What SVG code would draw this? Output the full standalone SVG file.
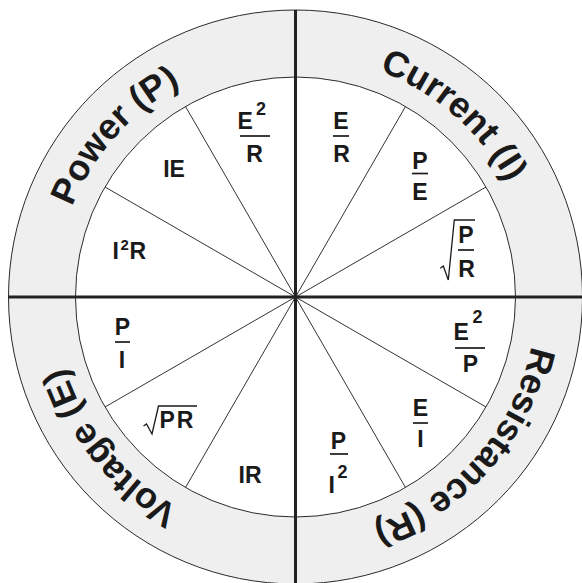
<svg xmlns="http://www.w3.org/2000/svg" width="582" height="583" viewBox="0 0 582 583">
<style>
.f{font-family:"Liberation Sans",Arial,Helvetica,sans-serif;font-weight:bold;fill:#1a1a1a}
.m{font-size:23px;text-anchor:middle}
.st{font-size:23px}
.s{font-size:18px}
.s2{font-size:15px}
.ring{font-size:36px;white-space:pre}
.bar{stroke:#1a1a1a;stroke-width:1.7}
.rad{fill:none;stroke:#1a1a1a;stroke-width:1.3;stroke-linejoin:miter}
.spoke{stroke:#333;stroke-width:1}
.axis{stroke:#222;stroke-width:3}
</style>
<defs>
<path id="arc" d="M536.5 297 A241 241 0 1 1 54.5 297 A241 241 0 1 1 536.5 297"/>
</defs>
<rect width="582" height="583" fill="#fff"/>
<g id="ring">
<circle cx="295.5" cy="297" r="287" fill="#efefef" stroke="#2a2a2a" stroke-width="1"/>
<circle cx="295.5" cy="297" r="220" fill="#fff" stroke="#2a2a2a" stroke-width="1"/>
</g>
<g id="connectors">
<line class="spoke" x1="295.5" y1="297" x2="486" y2="407"/>
<line class="spoke" x1="295.5" y1="297" x2="405.5" y2="487.5"/>
<line class="spoke" x1="295.5" y1="297" x2="185.5" y2="487.5"/>
<line class="spoke" x1="295.5" y1="297" x2="105" y2="407"/>
<line class="spoke" x1="295.5" y1="297" x2="105" y2="187"/>
<line class="spoke" x1="295.5" y1="297" x2="185.5" y2="106.5"/>
<line class="spoke" x1="295.5" y1="297" x2="405.5" y2="106.5"/>
<line class="spoke" x1="295.5" y1="297" x2="486" y2="187"/>
<line class="axis" x1="295.5" y1="10" x2="295.5" y2="584"/>
<line class="axis" x1="8.5" y1="297" x2="582.5" y2="297"/>
</g>
<g id="ring-labels" class="f ring">
<text id="power" text-anchor="middle"><textPath href="#arc" startOffset="61.6%">Power  (P)</textPath></text>
<text id="current" text-anchor="middle"><textPath href="#arc" startOffset="86.39%">Current (I)</textPath></text>
<text id="resistance" text-anchor="middle"><textPath href="#arc" startOffset="11.53%">Resistance (R)</textPath></text>
<text id="voltage" text-anchor="middle"><textPath href="#arc" startOffset="39.17%">Voltage (E)</textPath></text>
</g>
<g id="s-E2R" class="f">
<text class="st" x="237.5" y="129">E</text><text class="s" x="256" y="115">2</text>
<line class="bar" x1="240" y1="136" x2="270" y2="136"/>
<text class="m" x="254.5" y="162">R</text>
</g>
<g id="s-ER" class="f">
<text class="m" x="341" y="129">E</text>
<line class="bar" x1="333" y1="136" x2="349" y2="136"/>
<text class="m" x="341.5" y="162">R</text>
</g>
<g id="s-PE" class="f">
<text class="m" x="420" y="169">P</text>
<line class="bar" x1="412" y1="173.5" x2="428" y2="173.5"/>
<text class="m" x="420" y="200">E</text>
</g>
<g id="s-sqrtPR-frac" class="f">
<polyline class="rad" points="440.3,268.3 443.3,266 448.3,280 454.3,220 475,220"/>
<text class="m" x="466" y="243">P</text>
<line class="bar" x1="458" y1="250" x2="474" y2="250"/>
<text class="m" x="466.5" y="277">R</text>
</g>
<g id="s-E2P" class="f">
<text class="st" x="453.5" y="340">E</text><text class="s" x="472.5" y="323">2</text>
<line class="bar" x1="455" y1="348" x2="485" y2="348"/>
<text class="m" x="470.5" y="372">P</text>
</g>
<g id="s-EI" class="f">
<text class="m" x="420.5" y="416">E</text>
<line class="bar" x1="413" y1="423" x2="428" y2="423"/>
<text class="m" x="420.5" y="447">I</text>
</g>
<g id="s-PI2" class="f">
<text class="m" x="338.5" y="449">P</text>
<line class="bar" x1="330" y1="454" x2="348" y2="454"/>
<text class="st" x="328.5" y="493">I</text><text class="s" x="337.5" y="478">2</text>
</g>
<g id="s-IR" class="f">
<text class="m" x="250" y="483">IR</text>
</g>
<g id="s-sqrtPR" class="f">
<polyline class="rad" points="143.5,426 146.5,424 152,434 158.5,406 197,406"/>
<text class="st" x="159.5" y="428" letter-spacing="2">PR</text>
</g>
<g id="s-PI" class="f">
<text class="m" x="122.5" y="335">P</text>
<line class="bar" x1="115" y1="342" x2="130" y2="342"/>
<text class="m" x="122" y="368">I</text>
</g>
<g id="s-I2R" class="f">
<text class="st" x="112.5" y="259">I</text><text class="s2" x="120.5" y="250">2</text><text class="st" x="129.5" y="259">R</text>
</g>
<g id="s-IE" class="f">
<text class="m" x="174" y="177">IE</text>
</g>
</svg>
